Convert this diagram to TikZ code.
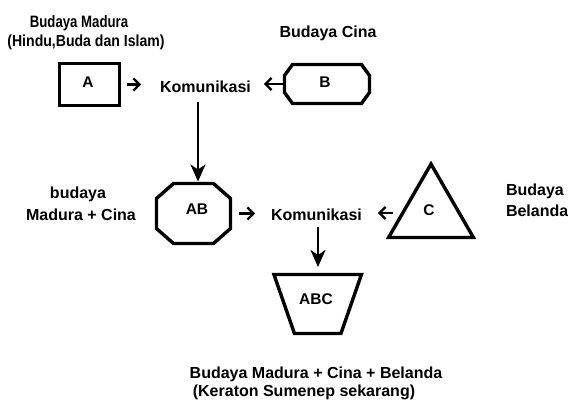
\documentclass[tikz,border=0pt]{standalone}
\usepackage{fontspec}
\setmainfont{Liberation Sans}
\newfontfamily\narrowA[FakeStretch=0.8]{Liberation Sans}
\newfontfamily\narrowB[FakeStretch=0.88]{Liberation Sans}
\usetikzlibrary{arrows.meta,calc,shapes.geometric}
\newcommand\myocta[3]{\draw[shapeline] ([xshift=#2]#1.north west) -- ([xshift=-#2]#1.north east) -- ([yshift=-#3]#1.north east) -- ([yshift=#3]#1.south east) -- ([xshift=-#2]#1.south east) -- ([xshift=#2]#1.south west) -- ([yshift=#3]#1.south west) -- ([yshift=-#3]#1.north west) -- cycle;}
\begin{document}
\begin{tikzpicture}[x=1pt,y=-1pt,
  txt/.style={inner sep=0pt, outer sep=0pt, anchor=base, font=\bfseries\fontsize{16}{18}\selectfont},
  lbl/.style={txt, font=\bfseries\fontsize{15.5}{17}\selectfont},
  sbox/.style={inner sep=0pt, outer sep=0pt, rectangle},
  shapeline/.style={line width=3.4pt, line join=miter},
  small/.style={line width=2.4pt, -{Straight Barb[length=6pt,width=12pt,line width=2.4pt]}},
  big/.style={line width=2.6pt, -{Stealth[length=17pt,width=15pt,inset=5pt]}},
]
\useasboundingbox[fill=white] (0,0) rectangle (568,401);
% top texts
\node[txt, font=\narrowA\bfseries\fontsize{16.5}{18}\selectfont] (mad1) at (79,28) {Budaya Madura};
\node[txt, font=\narrowB\bfseries\fontsize{16}{18}\selectfont] (mad2) at (86,46.5) {(Hindu,Buda dan Islam)};
\node[txt] (cina) at (328,38) {Budaya Cina};
% A
\node[sbox, draw, line width=3.4pt, minimum width=60.5, minimum height=42] (Abox) at (89.5,84.5) {};
\node[lbl] (A) at (88,88) {A};
% Komunikasi 1
\node[txt] (kom1) at (205.5,93) {Komunikasi};
% B
\node[sbox, minimum width=85, minimum height=39] (Bbox) at (327,84) {};
\myocta{Bbox}{8}{11}
\node[lbl] (B) at (325,88) {B};
\draw[small, shorten <=7.25pt, shorten >=19pt] (Abox.east) -- (Abox.east -| kom1.west);
\draw[small, shorten <=1pt, shorten >=13pt] (Bbox.west) -- (Bbox.west -| kom1.east);
% AB
\node[sbox, minimum width=74, minimum height=60] (ABbox) at (193.5,213.5) {};
\myocta{ABbox}{17}{15}
\node[lbl] (AB) at (197,214.5) {AB};
\draw[big, shorten <=9pt, shorten >=2pt] ([xshift=-7.5pt]kom1.south) -- ([xshift=-7.5pt]kom1.south |- ABbox.north);
\node[txt] (bud) at (78,199) {budaya};
\node[txt] (madcina) at (81,221) {Madura + Cina};
% Komunikasi 2
\node[txt] (kom2) at (316.5,221) {Komunikasi};
\draw[small, shorten <=8.5pt, shorten >=16pt] (ABbox.east) -- (ABbox.east -| kom2.west);
% C
\node[draw, shapeline, regular polygon, regular polygon sides=3, minimum size=97.9, inner sep=0pt, outer sep=0pt] (Cbox) at (431,213) {};
\node[lbl] (C) at (429,215.5) {C};
\draw[small, shorten <=38pt, shorten >=16pt] (Cbox.center) -- (Cbox.center -| kom2.east);
\node[txt, anchor=base west] (bud2) at (506,196) {Budaya};
\node[txt, anchor=base west] (bel) at (506,216) {Belanda};
% ABC
\node[sbox, minimum width=87.5, minimum height=59] (ABCbox) at (317.7,304) {};
\draw[shapeline] (ABCbox.north west) -- (ABCbox.north east) -- ([xshift=-20.5pt]ABCbox.south east) -- ([xshift=20.5pt]ABCbox.south west) -- cycle;
\node[lbl] (ABC) at (316,304.5) {ABC};
\draw[big, shorten <=6pt, shorten >=7.5pt] ([xshift=1.5pt]kom2.south) -- ([xshift=1.5pt]kom2.south |- ABCbox.north);
% bottom
\node[txt] (bot1) at (316,378.3) {Budaya Madura + Cina + Belanda};
\node[txt] (bot2) at (304,396.7) {(Keraton Sumenep sekarang)};
\end{tikzpicture}
\end{document}
